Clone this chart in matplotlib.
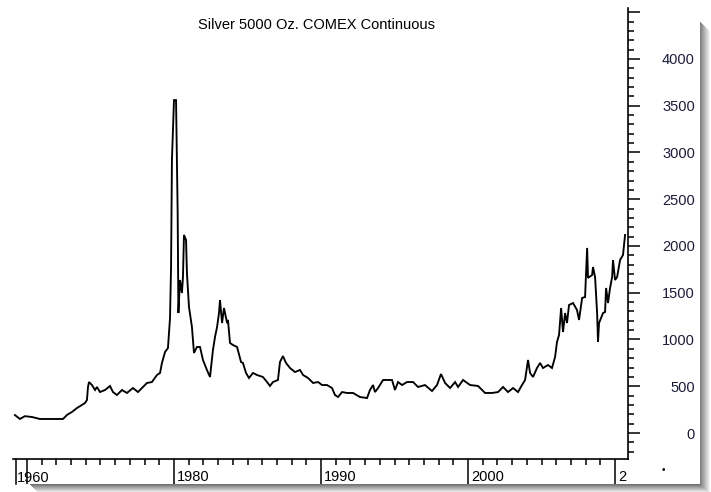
import numpy as np
import matplotlib.pyplot as plt
import matplotlib.transforms as mtransforms
from matplotlib.ticker import FixedLocator, MultipleLocator
from matplotlib.patches import Rectangle

# silver, cents per ounce
years = [1969.18, 1969.52, 1969.86, 1970.34, 1970.88, 1971.56, 1972.45, 1972.72,
         1973.06, 1973.40, 1973.74, 1973.95, 1974.08, 1974.15, 1974.22, 1974.42,
         1974.63, 1974.76, 1974.97, 1975.31, 1975.65, 1975.85, 1976.12, 1976.46,
         1976.80, 1977.21, 1977.55, 1977.89, 1978.16, 1978.50, 1978.84, 1979.05,
         1979.18, 1979.39, 1979.59, 1979.73, 1979.80, 1979.86, 1980.00, 1980.14,
         1980.20, 1980.25, 1980.30, 1980.41, 1980.54, 1980.61, 1980.68, 1980.82,
         1980.88, 1981.02, 1981.22, 1981.36, 1981.56, 1981.77, 1981.97, 1982.24,
         1982.45, 1982.65, 1982.79, 1982.93, 1983.06, 1983.13, 1983.27, 1983.40,
         1983.61, 1983.67, 1983.81, 1984.01, 1984.29, 1984.56, 1984.69, 1984.90,
         1985.10, 1985.37, 1985.65, 1986.05, 1986.33, 1986.53, 1986.73, 1987.07,
         1987.21, 1987.41, 1987.62, 1987.89, 1988.23, 1988.57, 1988.78, 1989.12,
         1989.46, 1989.80, 1990.07, 1990.41, 1990.75, 1990.95, 1991.16, 1991.43,
         1991.77, 1992.18, 1992.65, 1993.13, 1993.33, 1993.54, 1993.67, 1993.88,
         1994.22, 1994.83, 1995.03, 1995.24, 1995.51, 1995.85, 1996.26, 1996.60,
         1997.07, 1997.55, 1997.89, 1998.16, 1998.44, 1998.78, 1999.12, 1999.32,
         1999.66, 2000.14, 2000.68, 2001.16, 2001.63, 2002.04, 2002.38, 2002.72,
         2003.06, 2003.40, 2003.67, 2003.88, 2004.08, 2004.22, 2004.42, 2004.69,
         2004.90, 2005.10, 2005.44, 2005.71, 2005.92, 2006.05, 2006.19, 2006.33,
         2006.46, 2006.60, 2006.73, 2006.87, 2007.14, 2007.41, 2007.55, 2007.76,
         2007.96, 2008.10, 2008.16, 2008.44, 2008.50, 2008.64, 2008.78, 2008.84,
         2008.91, 2009.18, 2009.32, 2009.39, 2009.52, 2009.66, 2009.80, 2009.86,
         2010.00, 2010.14, 2010.34, 2010.54, 2010.68]
prices = [192, 150, 180, 171, 150, 150, 150, 193,
          225, 267, 300, 321, 353, 492, 545, 513,
          460, 492, 438, 460, 503, 438, 406, 460,
          428, 481, 438, 492, 535, 545, 620, 642,
          749, 866, 909, 1230, 1775, 2920, 3560, 3560,
          2920, 2353, 1283, 1636, 1497, 1668, 2118, 2064,
          1711, 1348, 1134, 856, 920, 920, 781, 674,
          599, 888, 1027, 1134, 1283, 1422, 1176, 1337,
          1176, 1209, 963, 941, 920, 759, 749, 642,
          588, 642, 620, 599, 545, 503, 545, 567,
          759, 823, 749, 695, 652, 674, 620, 588,
          535, 545, 513, 513, 481, 406, 385, 438,
          428, 428, 385, 374, 460, 513, 438, 481,
          567, 567, 460, 545, 513, 545, 545, 492,
          513, 449, 513, 631, 535, 481, 545, 492,
          567, 513, 503, 428, 428, 438, 492, 438,
          481, 438, 513, 567, 781, 642, 599, 695,
          749, 695, 727, 695, 813, 973, 1048, 1337,
          1080, 1283, 1176, 1369, 1390, 1316, 1209, 1444,
          1454, 1979, 1658, 1690, 1775, 1668, 1283, 973,
          1176, 1283, 1294, 1551, 1390, 1551, 1668, 1850,
          1636, 1668, 1850, 1904, 2118]

x_major = [1970, 1980, 1990, 2000, 2010]
x_labels = ['', '1980', '1990', '2000', '2']
first_label = '1960'
y_major = [0, 500, 1000, 1500, 2000, 2500, 3000, 3500, 4000, 4500]
y_labels = ['0', '500', '1000', '1500', '2000', '2500', '3000', '3500', '4000', '']
title = 'Silver 5000 Oz. COMEX Continuous'

plt.rcParams['font.family'] = ['Liberation Sans', 'DejaVu Sans']

W, H = 711, 492
fig = plt.figure(figsize=(W / 100, H / 100), dpi=100)


def px(x, y, w, h):
    # pixel box (top-left origin) -> figure fraction rect
    return (x / W, 1 - (y + h) / H), w / W, h / H


# drop shadow round the white panel
for k in range(10):
    g = 0.5 + 0.05 * k
    (x0, y0), w, h = px(700 + k, 22 + k, 1.2, 470 - k)
    fig.add_artist(Rectangle((x0, y0), w, h, transform=fig.transFigure,
                             color=str(g), lw=0, zorder=0))
for k in range(8):
    g = 0.45 + 0.065 * k
    (x0, y0), w, h = px(30 + k, 484 + k, 670, 1.2)
    fig.add_artist(Rectangle((x0, y0), w, h, transform=fig.transFigure,
                             color=str(g), lw=0, zorder=0))

ax = fig.add_axes([13 / W, 1 - 459 / H, 615 / W, 451 / H])
ax.patch.set_alpha(0)
ax.plot(years, prices, color='black', lw=1.35, solid_joinstyle='miter')

ax.set_xlim(1969.05, 2010.88)
ax.set_ylim(-278, 4545)

for s in ['left', 'top']:
    ax.spines[s].set_visible(False)
for s in ['right', 'bottom']:
    ax.spines[s].set_linewidth(1.2)

# x axis: decade ticks run through the label strip, yearly minors
ax.xaxis.set_major_locator(FixedLocator(x_major))
ax.set_xticklabels(x_labels)
ax.xaxis.set_minor_locator(MultipleLocator(1))
ax.tick_params(axis='x', which='major', direction='out', length=18, width=1.1,
               pad=-10, labelsize=10.5)
ax.tick_params(axis='x', which='minor', direction='out', length=4.5, width=1.1)
shift = mtransforms.ScaledTranslation(3 / 100, 0, fig.dpi_scale_trans)
for lbl in ax.get_xticklabels():
    lbl.set_ha('left')
    lbl.set_transform(lbl.get_transform() + shift)
ax.annotate(first_label, xy=(1970, 0), xycoords=('data', 'axes fraction'),
            xytext=(-7.2, -8.5), textcoords='offset points',
            ha='left', va='top', fontsize=10.5)
ax.axvline(1969.25, ymin=-0.055, ymax=0, color='black', lw=1.1, clip_on=False)

# y axis on the right
ax.yaxis.tick_right()
ax.yaxis.set_major_locator(FixedLocator(y_major))
ax.set_yticklabels(y_labels)
ax.yaxis.set_minor_locator(MultipleLocator(100))
ax.tick_params(axis='y', which='major', direction='out', length=8.6, width=1.1,
               pad=39.6, labelsize=10.5, labelcolor='#1c1c38')
ax.tick_params(axis='y', which='minor', direction='out', length=4.3, width=1.1)
for lbl in ax.get_yticklabels():
    lbl.set_ha('right')

fig.text(317 / W, 1 - 25 / H, title, ha='center', va='center', fontsize=10.5)
fig.text(663 / W, 1 - 470 / H, '•', ha='center', va='center', fontsize=7)

fig.savefig('out.png', dpi=100)
